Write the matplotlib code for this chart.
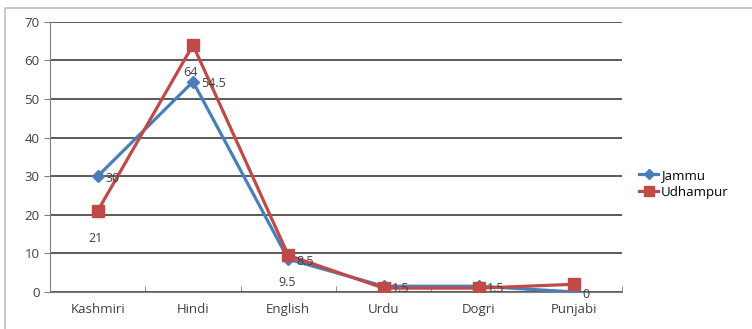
import matplotlib.pyplot as plt
from matplotlib.patches import Rectangle

# language use, percent of respondents
languages = ['Kashmiri', 'Hindi', 'English', 'Urdu', 'Dogri', 'Punjabi']
jammu = [30, 54.5, 8.5, 1.5, 1.5, 0]
udhampur = [21, 64, 9.5, 1, 1, 2]

jammu_labels = ['30', '54.5', '8.5', '1.5', '1.5', '0']
udhampur_labels = ['21', '64', '9.5', '', '', '']

plt.rcParams['font.family'] = ['Open Sans', 'DejaVu Sans']

fig = plt.figure(figsize=(7.52, 3.29), dpi=100)
ax = fig.add_axes([0.0665, 0.1125, 0.7605, 0.821])

# outer chart frame
fig.patches.append(Rectangle((0.007, -0.05), 1.0, 1.025, transform=fig.transFigure,
                             fill=False, edgecolor='#bfbfbf', lw=1.2))

x = list(range(len(languages)))
ax.plot(x, jammu, color='#4a7ebb', lw=2.3, marker='D', ms=6, label='Jammu', zorder=3)
ax.plot(x, udhampur, color='#be4b48', lw=2.3, marker='s', ms=9, label='Udhampur', zorder=4)

for i, t in enumerate(jammu_labels):
    ax.annotate(t, (x[i], jammu[i]), xytext=(6, -4), textcoords='offset points',
                fontsize=9, color='#404040', zorder=5)
for i, t in enumerate(udhampur_labels):
    if t:
        ax.annotate(t, (x[i], udhampur[i]), xytext=(-7, -22), textcoords='offset points',
                    fontsize=9, color='#404040', zorder=5)

ax.set_xlim(-0.5, len(languages) - 0.5)
ax.set_ylim(0, 70)
ax.set_yticks(range(0, 71, 10))
ax.set_xticks(x)
ax.set_xticklabels(languages)
ax.set_xticks([i - 0.5 for i in range(len(languages) + 1)], minor=True)
ax.tick_params(axis='x', which='major', length=0, pad=8, labelsize=9.5, labelcolor='#404040')
ax.tick_params(axis='x', which='minor', length=4, direction='in', color='#808080')
ax.tick_params(axis='y', length=4, labelsize=9.5, labelcolor='#404040', color='#808080')
ax.grid(axis='y', color='#4d4d4d', lw=1.3)
ax.set_axisbelow(True)
for s in ['top', 'right']:
    ax.spines[s].set_visible(False)
ax.spines['left'].set_color('#808080')
ax.spines['bottom'].set_color('#808080')

ax.legend(loc='center left', bbox_to_anchor=(1.01, 0.40), frameon=False, fontsize=9.5,
          handlelength=1.4, handletextpad=0.2, labelspacing=0.3, markerscale=0.8)

plt.savefig('out.png', dpi=100)
